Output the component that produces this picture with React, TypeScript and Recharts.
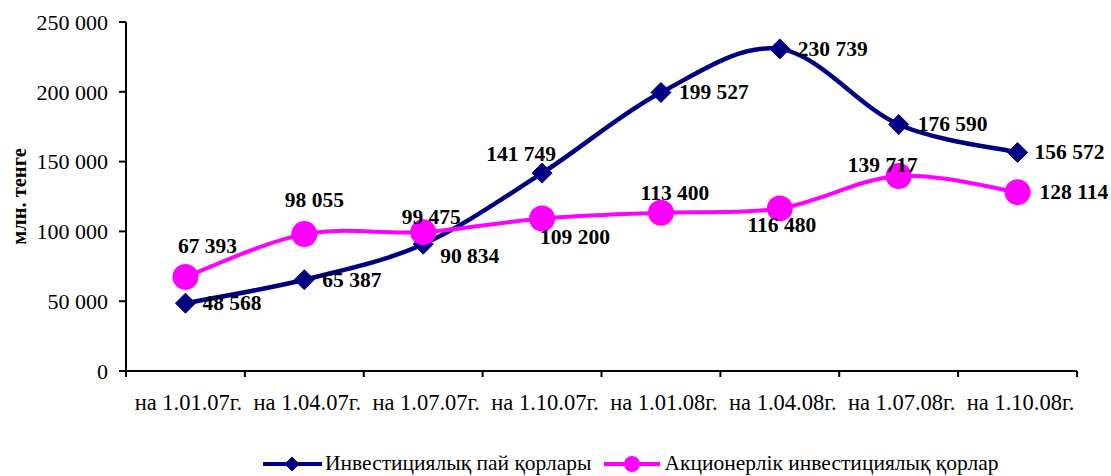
import React from "react";
import { LineChart, Line, XAxis, YAxis, Legend, LabelList } from "recharts";

const categories = [
  "на 1.01.07г.",
  "на 1.04.07г.",
  "на 1.07.07г.",
  "на 1.10.07г.",
  "на 1.01.08г.",
  "на 1.04.08г.",
  "на 1.07.08г.",
  "на 1.10.08г.",
];
const paiValues = [48568, 65387, 90834, 141749, 199527, 230739, 176590, 156572];
const aktsValues = [67393, 98055, 99475, 109200, 113400, 116480, 139717, 128114];
const yTicks = [0, 50000, 100000, 150000, 200000, 250000];
const seriesNames = ["Инвестициялық пай қорлары", "Акционерлік инвестициялық қорлар"];
const yAxisTitle = "млн. тенге";

// label placement: [anchor, dx, dy] relative to the point
const paiLabelPos: [string, number, number][] = [
  ["start", 17, 0],
  ["start", 18, 0],
  ["start", 17, 12],
  ["middle", -21, -19],
  ["start", 18, 0],
  ["start", 18, 0],
  ["start", 19, 0],
  ["start", 17, 0],
];
const aktsLabelPos: [string, number, number][] = [
  ["middle", 22, -31],
  ["middle", 10, -34],
  ["middle", 8, -15],
  ["start", -2, 18],
  ["middle", 14, -20],
  ["middle", 2, 17],
  ["middle", -16, -11],
  ["start", 22, 0],
];

const data = categories.map((name, i) => ({
  name,
  pai: paiValues[i],
  akts: aktsValues[i],
}));

const FONT = '"Liberation Serif", "Times New Roman", serif';
const NAVY = "#000080";
const MAGENTA = "#FF00FF";
const PLOT_LEFT = 126;
const PLOT_RIGHT = 1077;
const BAND = (PLOT_RIGHT - PLOT_LEFT) / categories.length;
const LEGEND_H = 22;

const fmt = (n: number) => String(n).replace(/\B(?=(\d{3})+(?!\d))/g, " ");

// Excel-like smoothed line (Catmull-Rom through the points)
const excelSmooth = (context: any) => {
  let pts: [number, number][] = [];
  return {
    areaStart() {},
    areaEnd() {},
    lineStart() {
      pts = [];
    },
    lineEnd() {
      if (!pts.length) return;
      context.moveTo(pts[0][0], pts[0][1]);
      for (let i = 0; i < pts.length - 1; i++) {
        const p0 = pts[Math.max(i - 1, 0)];
        const p1 = pts[i];
        const p2 = pts[i + 1];
        const p3 = pts[Math.min(i + 2, pts.length - 1)];
        context.bezierCurveTo(
          p1[0] + (p2[0] - p0[0]) / 6,
          p1[1] + (p2[1] - p0[1]) / 6,
          p2[0] - (p3[0] - p1[0]) / 6,
          p2[1] - (p3[1] - p1[1]) / 6,
          p2[0],
          p2[1]
        );
      }
    },
    point(x: number, y: number) {
      pts.push([x, y]);
    },
  };
};

const Diamond = ({ cx, cy, r }: { cx: number; cy: number; r: number }) => (
  <polygon
    points={`${cx},${cy - r} ${cx + r},${cy} ${cx},${cy + r} ${cx - r},${cy}`}
    fill={NAVY}
    stroke={NAVY}
  />
);

const makeLabel = (pos: [string, number, number][]) => (props: any) => {
  const { x, y, value, index } = props;
  const [anchor, dx, dy] = pos[index];
  return (
    <text
      x={x + dx}
      y={y + dy + 7}
      textAnchor={anchor}
      fontFamily={FONT}
      fontSize={21.5}
      fontWeight="bold"
      fill="#000"
    >
      {fmt(value)}
    </text>
  );
};

const XTick = (props: any) => {
  const { x, y, payload, index } = props;
  return (
    <g>
      <line x1={x - BAND / 2} x2={x - BAND / 2} y1={y} y2={y + 6} stroke="#000" strokeWidth={2} />
      {index === categories.length - 1 && (
        <line x1={x + BAND / 2} x2={x + BAND / 2} y1={y} y2={y + 6} stroke="#000" strokeWidth={2} />
      )}
      <text x={x + 3} y={y + 39} textAnchor="middle" fontFamily={FONT} fontSize={22.5} fill="#000">
        {payload.value}
      </text>
    </g>
  );
};

const renderLegend = () => (
  <div
    style={{
      display: "flex",
      alignItems: "center",
      fontFamily: FONT,
      fontSize: 21.5,
      lineHeight: 1,
      color: "#000",
      height: LEGEND_H,
    }}
  >
    <svg width={59} height={20}>
      <line x1={0} x2={59} y1={10} y2={10} stroke={NAVY} strokeWidth={4} />
      <Diamond cx={29} cy={10} r={7} />
    </svg>
    <span style={{ marginLeft: 3, marginRight: 12, whiteSpace: "nowrap" }}>{seriesNames[0]}</span>
    <svg width={56} height={20}>
      <line x1={0} x2={56} y1={10} y2={10} stroke={MAGENTA} strokeWidth={4} />
      <circle cx={28} cy={10} r={8} fill={MAGENTA} />
    </svg>
    <span style={{ marginLeft: 5, whiteSpace: "nowrap" }}>{seriesNames[1]}</span>
  </div>
);

export default function App() {
  return (
    <div style={{ position: "absolute", left: 0, top: 0, background: "#fff" }}>
      <LineChart
        width={1111}
        height={476}
        data={data}
        margin={{ top: 22, right: 1111 - PLOT_RIGHT, left: 0, bottom: 476 - 371 - 60 - LEGEND_H }}
      >
        <XAxis
          dataKey="name"
          interval={0}
          padding={{ left: BAND / 2, right: BAND / 2 }}
          axisLine={{ stroke: "#000", strokeWidth: 2 }}
          tickLine={false}
          tickSize={0}
          tickMargin={0}
          height={60}
          tick={<XTick />}
        />
        <YAxis
          width={PLOT_LEFT}
          domain={[0, 250000]}
          ticks={yTicks}
          interval={0}
          tickFormatter={fmt}
          axisLine={{ stroke: "#000", strokeWidth: 2 }}
          tickLine={{ stroke: "#000", strokeWidth: 2 }}
          tickSize={7}
          tickMargin={11}
          tick={{ fontFamily: FONT, fontSize: 22, fill: "#000" }}
          label={{
            content: (p: any) => {
              const vb = p.viewBox;
              const cx = 19;
              const cy = vb.y + vb.height / 2;
              return (
                <text
                  x={cx}
                  y={cy}
                  transform={`rotate(-90, ${cx}, ${cy})`}
                  textAnchor="middle"
                  dominantBaseline="central"
                  fontFamily={FONT}
                  fontSize={20.5}
                  fontWeight="bold"
                  fill="#000"
                >
                  {yAxisTitle}
                </text>
              );
            },
          }}
        />
        <Legend
          content={renderLegend}
          wrapperStyle={{ top: 453, left: 263, width: "auto", height: LEGEND_H }}
        />
        <Line
          dataKey="pai"
          name={seriesNames[0]}
          type={excelSmooth as any}
          stroke={NAVY}
          strokeWidth={4.5}
          isAnimationActive={false}
          dot={(p: any) => <Diamond key={`d-${p.index}`} cx={p.cx} cy={p.cy} r={10} />}
        >
          <LabelList dataKey="pai" content={makeLabel(paiLabelPos)} />
        </Line>
        <Line
          dataKey="akts"
          name={seriesNames[1]}
          type={excelSmooth as any}
          stroke={MAGENTA}
          strokeWidth={4}
          isAnimationActive={false}
          dot={(p: any) => <circle key={`c-${p.index}`} cx={p.cx} cy={p.cy} r={13} fill={MAGENTA} />}
        >
          <LabelList dataKey="akts" content={makeLabel(aktsLabelPos)} />
        </Line>
      </LineChart>
    </div>
  );
}
